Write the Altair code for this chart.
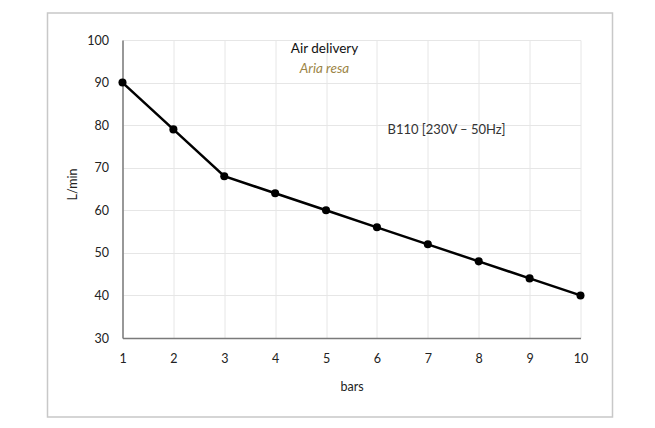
import altair as alt
import pandas as pd

bars = [1, 2, 3, 4, 5, 6, 7, 8, 9, 10]
lmin = [90, 79, 68, 64, 60, 56, 52, 48, 44, 40]

df = pd.DataFrame({"bars": bars, "lmin": lmin})

FONT = "Lato"

base = alt.Chart(df)

line = base.mark_line(color="black", strokeWidth=2.5).encode(
    x=alt.X("bars:Q", scale=alt.Scale(domain=[1, 10], nice=False),
            axis=alt.Axis(title="bars", values=bars, format="d", labelFlush=False,
                          labelPadding=14, titlePadding=16)),
    y=alt.Y("lmin:Q", scale=alt.Scale(domain=[30, 100], nice=False),
            axis=alt.Axis(title="L/min", values=[30, 40, 50, 60, 70, 80, 90, 100],
                          labelFlush=False, labelPadding=14,
                          titleX=-50, titleY=144, titleAlign="center",
                          titleBaseline="middle", titleAngle=270)),
)
pts = base.mark_point(filled=True, color="black", size=65, opacity=1).encode(
    x="bars:Q", y="lmin:Q"
)

t1 = alt.Chart(pd.DataFrame({"t": ["Air delivery"]})).mark_text(
    font=FONT, fontSize=13.5, color="#111111", align="center", baseline="middle"
).encode(text="t:N", x=alt.value(202), y=alt.value(9))

t2 = alt.Chart(pd.DataFrame({"t": ["Aria resa"]})).mark_text(
    font=FONT, fontSize=13.5, fontStyle="italic", color="#9c8546", align="center", baseline="middle"
).encode(text="t:N", x=alt.value(202), y=alt.value(29))

t3 = alt.Chart(pd.DataFrame({"t": ["B110 [230V – 50Hz]"]})).mark_text(
    font=FONT, fontSize=13, color="#333333", align="left", baseline="middle"
).encode(text="t:N", x=alt.value(265), y=alt.value(90))

frame = alt.Chart(pd.DataFrame({"a": [0]})).mark_rect(
    fill=None, stroke="#c8c8c8", strokeWidth=1.5
).encode(x=alt.value(-75), x2=alt.value(490), y=alt.value(-27), y2=alt.value(377))

chart = alt.layer(frame, line, pts, t1, t2, t3).properties(
    width=458, height=298,
    autosize=alt.AutoSizeParams(type="none"),
    padding={"left": 114.5, "top": 32, "right": 60, "bottom": 80},
).configure_view(stroke=None).configure_axis(
    labelFont=FONT, titleFont=FONT, labelFontSize=12.5, titleFontSize=12.5,
    labelColor="#222222", titleColor="#222222", titleFontWeight="normal",
    gridColor="#e6e6e6", gridWidth=1, domainColor="#7a7a7a", domainWidth=1.5,
    ticks=False,
)

chart.save("out.html", embed_options={"renderer": "svg", "actions": False})
